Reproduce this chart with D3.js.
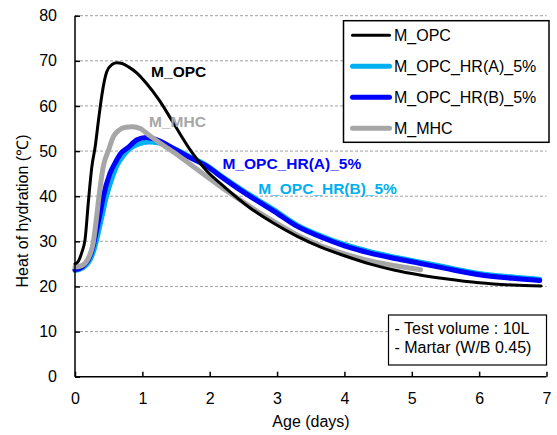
<!DOCTYPE html>
<html>
<head>
<meta charset="utf-8">
<script src="https://cdn.jsdelivr.net/npm/d3@7"></script>
<style>
  body { margin: 0; background: #fff; }
  svg { display: block; font-family: "Liberation Sans", Arial, sans-serif; }
</style>
</head>
<body>
<div id="chart"></div>
<script>
// Data (days / temperature in ℃)
const seriesNames = ["M_OPC", "M_OPC_HR(A)_5%", "M_OPC_HR(B)_5%", "M_MHC"];

const opcDays = [0, 0.05, 0.1, 0.15, 0.2, 0.25, 0.3, 0.35, 0.4, 0.47, 0.55, 0.62, 0.7, 0.8, 0.92, 1.05, 1.25, 1.45, 1.7, 1.95, 2.2, 2.6, 2.95, 3.3, 3.65, 4.0, 4.4, 4.75, 5.1, 5.5, 6.0, 6.5, 6.92];
const opcTemp = [25, 25.6, 27.5, 30.5, 39, 46.5, 51, 57, 62.5, 67.5, 69.2, 69.6, 69.4, 68.6, 67.3, 65.2, 61.3, 56.5, 50.5, 45.7, 42.3, 37.4, 34, 31.1, 28.7, 26.8, 24.9, 23.6, 22.6, 21.7, 20.8, 20.3, 20.1];

const hraDays = [0, 0.1, 0.22, 0.28, 0.34, 0.4, 0.46, 0.55, 0.63, 0.72, 0.82, 0.95, 1.1, 1.25, 1.46, 1.7, 1.96, 2.2, 2.45, 2.7, 2.95, 3.3, 3.64, 4.0, 4.38, 4.75, 5.13, 5.5, 6.0, 6.5, 6.9];
const hraTemp = [23.5, 24, 25.8, 28, 31.5, 35.5, 39.5, 44, 47, 49, 50.6, 51.6, 52, 51.8, 50.6, 48.8, 46.8, 44.2, 41.7, 39.3, 37, 33.6, 31.3, 29.3, 27.7, 26.5, 25.4, 24.3, 22.9, 22.1, 21.6];

const hrbDays = [0, 0.1, 0.22, 0.27, 0.32, 0.37, 0.42, 0.52, 0.6, 0.67, 0.79, 0.92, 1.05, 1.2, 1.46, 1.7, 1.96, 2.2, 2.45, 2.7, 2.95, 3.3, 3.64, 4.0, 4.38, 4.75, 5.13, 5.5, 6.0, 6.5, 6.9];
const hrbTemp = [23.7, 24.3, 26.6, 29, 32.5, 36, 39.9, 45.1, 47.5, 49.3, 50.8, 52.5, 53, 52.6, 50.6, 48.6, 46.6, 44, 41.4, 39, 36.7, 33.3, 31.0, 29.0, 27.4, 26.2, 25.1, 24.0, 22.6, 21.8, 21.3];

const mhcDays = [0, 0.1, 0.17, 0.22, 0.27, 0.31, 0.35, 0.42, 0.5, 0.57, 0.65, 0.75, 0.85, 0.97, 1.1, 1.25, 1.46, 1.7, 1.96, 2.2, 2.45, 2.7, 2.95, 3.3, 3.65, 4.0, 4.4, 4.75, 5.13];
const mhcTemp = [24.3, 24.6, 25.5, 27, 29.6, 34, 39.2, 46.6, 50.3, 53.2, 54.6, 55.3, 55.4, 55, 53.5, 51.9, 49.8, 47.2, 44.3, 41.7, 39.2, 36.7, 34.4, 31.4, 29.0, 27.2, 25.6, 24.6, 23.7];

const xTicks = [0, 1, 2, 3, 4, 5, 6, 7];
const yTicks = [0, 10, 20, 30, 40, 50, 60, 70, 80];
const noteLines = ["- Test volume : 10L", "- Martar (W/B 0.45)"];

//---------------------------------------------------------------------------------------

// Regroupement des séries
const zip = (days, temps) => days.map((d, i) => ({ day: d, temp: temps[i] }));
const series = [
  { name: "M_OPC_HR(A)_5%", color: "#00b0f0", width: 5, values: zip(hraDays, hraTemp) },
  { name: "M_OPC_HR(B)_5%", color: "#0000ff", width: 5, values: zip(hrbDays, hrbTemp) },
  { name: "M_MHC", color: "#a6a6a6", width: 5, values: zip(mhcDays, mhcTemp) },
  { name: "M_OPC", color: "#000000", width: 3, values: zip(opcDays, opcTemp) },
];
const colorOf = name => series.find(s => s.name === name).color;
const widthOf = name => series.find(s => s.name === name).width;

//---------------------------------------------------------------------------------------

// Canevas
const W = 557, H = 435;
const plot = { left: 75, right: 546.5, top: 15.7, bottom: 376.7 };

const svg = d3.select("#chart").append("svg")
  .attr("width", W)
  .attr("height", H);

// Échelles
const scaleX = d3.scaleLinear().domain([0, 7]).range([plot.left, plot.right]);
const scaleY = d3.scaleLinear().domain([0, 80]).range([plot.bottom, plot.top]);

// Grille horizontale en pointillés
svg.append("g")
  .selectAll("line")
  .data(yTicks.filter(d => d > 0))
  .join("line")
  .attr("x1", plot.left)
  .attr("x2", plot.right)
  .attr("y1", d => scaleY(d))
  .attr("y2", d => scaleY(d))
  .attr("stroke", "#a0a0a0")
  .attr("stroke-width", 1)
  .attr("stroke-dasharray", "3,2");

//---------------------------------------------------------------------------------------

// Courbes
const line = d3.line()
  .x(d => scaleX(d.day))
  .y(d => scaleY(d.temp))
  .curve(d3.curveMonotoneX);

svg.append("g")
  .selectAll("path")
  .data(series)
  .join("path")
  .attr("d", d => line(d.values))
  .attr("fill", "none")
  .attr("stroke", d => d.color)
  .attr("stroke-width", d => d.width)
  .attr("stroke-linejoin", "round")
  .attr("stroke-linecap", "round");

//---------------------------------------------------------------------------------------

// Axes
const xAxis = g => g
  .attr("transform", `translate(0, ${plot.bottom})`)
  .call(d3.axisBottom(scaleX).tickValues(xTicks).tickSize(-5).tickPadding(16).tickFormat(d3.format("d")))
  .call(g => g.select(".domain").attr("d", `M${plot.left},0H${plot.right}`));

const yAxis = g => g
  .attr("transform", `translate(${plot.left}, 0)`)
  .call(d3.axisLeft(scaleY).tickValues(yTicks).tickSize(-5).tickPadding(18).tickFormat(d3.format("d")))
  .call(g => g.select(".domain").attr("d", `M0,${plot.bottom}V${plot.top}`));

[svg.append("g").call(xAxis), svg.append("g").call(yAxis)].forEach(g => {
  g.attr("font-family", null).attr("font-size", 16);
  g.selectAll("text").attr("fill", "#000");
  g.selectAll("line, path").attr("stroke", "#000").attr("stroke-width", 1.5);
});

// Titres des axes
svg.append("text")
  .attr("x", 311)
  .attr("y", 427)
  .attr("text-anchor", "middle")
  .attr("font-size", 16)
  .text("Age (days)");

svg.append("text")
  .attr("transform", `translate(28, 211) rotate(-90)`)
  .attr("text-anchor", "middle")
  .attr("font-size", 16)
  .text("Heat of hydration (℃)");

//---------------------------------------------------------------------------------------

// Annotations sur les courbes
const notes = [
  { name: "M_OPC", day: 1.13, temp: 66.5 },
  { name: "M_MHC", day: 1.1, temp: 55.4 },
  { name: "M_OPC_HR(B)_5%", day: 2.19, temp: 46.0, label: "M_OPC_HR(A)_5%" },
  { name: "M_OPC_HR(A)_5%", day: 2.72, temp: 40.4, label: "M_OPC_HR(B)_5%" },
];

svg.append("g")
  .selectAll("text")
  .data(notes)
  .join("text")
  .attr("x", d => scaleX(d.day))
  .attr("y", d => scaleY(d.temp))
  .attr("font-size", 15.5)
  .attr("font-weight", "bold")
  .attr("fill", d => colorOf(d.name))
  .text(d => d.label || d.name);

//---------------------------------------------------------------------------------------

// Légende
const legend = svg.append("g").attr("transform", "translate(343.5, 20.7)");

legend.append("rect")
  .attr("width", 205.5)
  .attr("height", 121.6)
  .attr("fill", "#fff")
  .attr("stroke", "#000")
  .attr("stroke-width", 1.5);

const item = legend.selectAll(".item")
  .data(seriesNames)
  .join("g")
  .attr("class", "item")
  .attr("transform", (d, i) => `translate(0, ${14.5 + i * 31})`);

item.append("line")
  .attr("x1", 9)
  .attr("x2", 46)
  .attr("stroke", d => colorOf(d))
  .attr("stroke-width", d => widthOf(d))
  .attr("stroke-linecap", "round");

item.append("text")
  .attr("x", 50.5)
  .attr("y", 6)
  .attr("font-size", 16)
  .text(d => d);

// Encadré des conditions d'essai
const note = svg.append("g").attr("transform", "translate(388.5, 315)");

note.append("rect")
  .attr("width", 158)
  .attr("height", 50)
  .attr("fill", "#fff")
  .attr("stroke", "#000")
  .attr("stroke-width", 1.2);

note.selectAll("text")
  .data(noteLines)
  .join("text")
  .attr("x", 6)
  .attr("y", (d, i) => 18.5 + i * 19)
  .attr("font-size", 16)
  .text(d => d);
</script>
</body>
</html>
